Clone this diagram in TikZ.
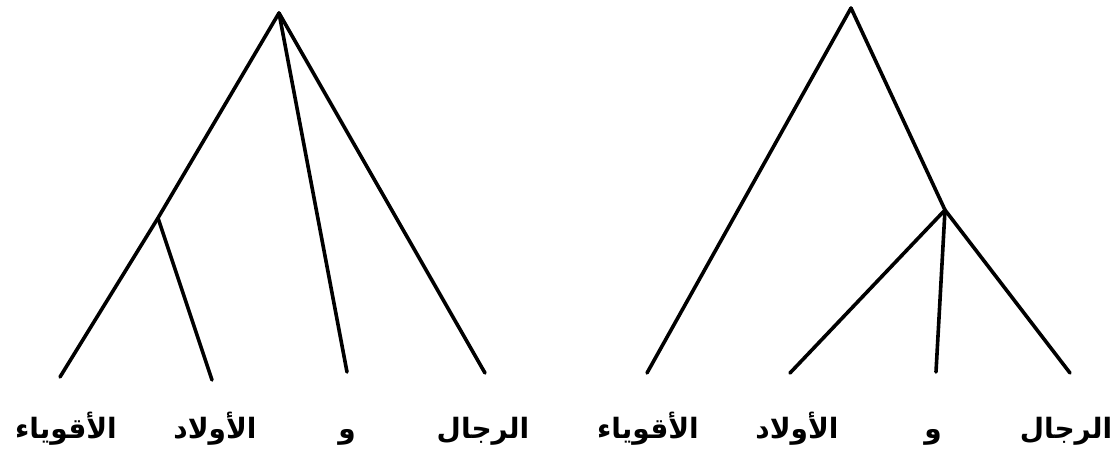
\documentclass[tikz,border=0pt]{standalone}
\usepackage{fontspec}
\newfontfamily\arabicfont[Script=Arabic]{DejaVu Sans}
\TeXXeTstate=1
\usetikzlibrary{positioning}
\tikzset{
  branch/.style={line width=3.6pt, color=black, line cap=round, line join=round},
  wordnode/.style={anchor=base, inner sep=0pt,
                   font=\arabicfont\bfseries\fontsize{28}{34}\selectfont}
}

\begin{document}
\begin{tikzpicture}[x=1pt,y=-1pt]
  \useasboundingbox (0,0) rectangle (1120,458);

  % left tree
  \coordinate (lroot) at (279,13);
  \coordinate (lmid) at (158,218);
  \coordinate (lleafa) at (60,377);
  \coordinate (lleafb) at (212,380);
  \coordinate (lleafc) at (347,372);
  \coordinate (lleafd) at (485,373);
  \draw[branch] (lroot) -- (lmid) -- (lleafa);
  \draw[branch] (lmid) -- (lleafb);
  \draw[branch] (lroot) -- (lleafc);
  \draw[branch] (lroot) -- (lleafd);
  \node[wordnode] (lstrong) at (66,438) {\beginR الأقوياء\endR};
  \node[wordnode] (lboys) at (215,438) {\beginR الأولاد\endR};
  \node[wordnode] (land) at (347,438) {\beginR و\endR};
  \node[wordnode] (lmen) at (483,438) {\beginR الرجال\endR};

  % right tree
  \coordinate (rroot) at (851,8);
  \coordinate (rmid) at (945,210);
  \coordinate (rleafa) at (647,373);
  \coordinate (rleafb) at (790,373);
  \coordinate (rleafc) at (936,372);
  \coordinate (rleafd) at (1070,373);
  \draw[branch] (rroot) -- (rleafa);
  \draw[branch] (rroot) -- (rmid) -- (rleafd);
  \draw[branch] (rmid) -- (rleafb);
  \draw[branch] (rmid) -- (rleafc);
  \node[wordnode] (rstrong) at (648,438) {\beginR الأقوياء\endR};
  \node[wordnode] (rboys) at (797,438) {\beginR الأولاد\endR};
  \node[wordnode] (rand) at (933,438) {\beginR و\endR};
  \node[wordnode] (rmen) at (1066,438) {\beginR الرجال\endR};
\end{tikzpicture}
\end{document}
